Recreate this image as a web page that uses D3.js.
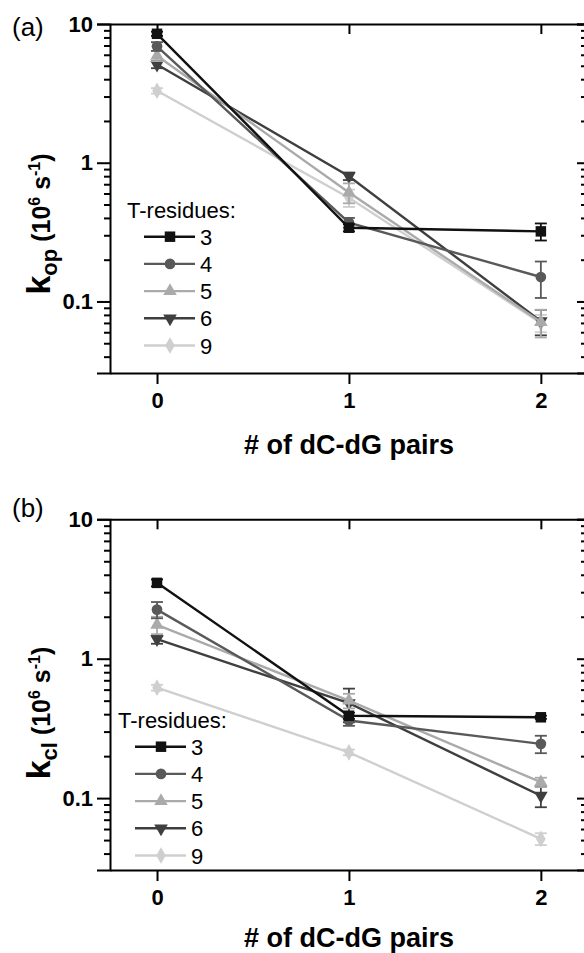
<!DOCTYPE html>
<html>
<head>
<meta charset="utf-8">
<script src="https://cdn.jsdelivr.net/npm/d3@7"></script>
<style>
  body { margin: 0; background: #fff; }
  text { font-family: "Liberation Sans", Arial, sans-serif; }
</style>
</head>
<body>
<svg width="584" height="953"></svg>
<script>
// data
var xValues = [0, 1, 2];
var residues = ["3", "4", "5", "6", "9"];

// k_op (10^6 s^-1), one row per T-residue count
var kopValues = [
  [8.5, 0.34, 0.32],
  [6.9, 0.37, 0.15],
  [5.9, 0.61, 0.071],
  [5.1, 0.80, 0.072],
  [3.3, 0.56, 0.070]
];
var kopErrors = [
  [0.3, 0.02, 0.045],
  [0.5, 0.03, 0.044],
  [0.5, 0.10, 0.016],
  [0.3, 0.05, 0.015],
  [0.15, 0.08, 0.010]
];

// k_cl (10^6 s^-1)
var kclValues = [
  [3.5, 0.39, 0.38],
  [2.25, 0.36, 0.245],
  [1.75, 0.50, 0.130],
  [1.38, 0.48, 0.104],
  [0.62, 0.213, 0.051]
];
var kclErrors = [
  [0.2, 0.02, 0.01],
  [0.3, 0.03, 0.035],
  [0.25, 0.06, 0.01],
  [0.1, 0.13, 0.018],
  [0.03, 0.01, 0.005]
];

var yTickValues = [0.1, 1, 10];
var yTickLabels = ["0.1", "1", "10"];

var colors = ["#111111", "#595959", "#aaaaaa", "#3f3f3f", "#cfcfcf"];
var symbols = [d3.symbolSquare, d3.symbolCircle, d3.symbolTriangle, d3.symbolTriangle, d3.symbolDiamond];
var symSizes = [110, 90, 80, 80, 80];
var symRotate = [0, 0, 0, 180, 0];

var svg = d3.select("svg");

var x = d3.scaleLinear().domain([-0.245, 2.23]).range([110, 585]);

// minor ticks of the log axis
var minorTicks = [];
[0.01, 0.1, 1].forEach(function(d) {
  for (var k = 2; k <= 9; k++) minorTicks.push(d * k);
});

function drawPanel(p) {
  var y = d3.scaleLog().domain([0.0305, 10]).range([p.bottom, p.top]);
  var minor = minorTicks.filter(function(d) { return d > 0.0305 && d < 10; });
  var g = svg.append("g");

  function styleAxis(a) {
    a.selectAll("path").attr("stroke", "#000").attr("stroke-width", 2);
    a.selectAll("line").attr("stroke", "#000").attr("stroke-width", 2);
    a.selectAll("text").attr("fill", "#000").attr("font-weight", "bold").attr("font-size", 22);
  }

  // left axis
  var left = g.append("g").attr("transform", "translate(110,0)")
    .call(d3.axisLeft(y).tickValues(yTickValues).tickSize(13).tickPadding(4)
      .tickFormat(function(d, i) { return yTickLabels[i]; }));
  styleAxis(left);
  g.append("g").attr("transform", "translate(110,0)")
    .call(d3.axisLeft(y).tickValues(minor).tickSize(6).tickFormat(""))
    .call(function(a) { a.select("path").remove(); styleAxis(a); });

  // right axis, ticks inward
  var right = g.append("g").attr("transform", "translate(585,0)")
    .call(d3.axisRight(y).tickValues(yTickValues).tickSize(-8).tickFormat(""));
  styleAxis(right);
  g.append("g").attr("transform", "translate(585,0)")
    .call(d3.axisRight(y).tickValues(minor).tickSize(-4).tickFormat(""))
    .call(function(a) { a.select("path").remove(); styleAxis(a); });

  // bottom axis
  var bottom = g.append("g").attr("transform", "translate(0," + p.bottom + ")")
    .call(d3.axisBottom(x).tickValues(xValues).tickSize(11).tickPadding(8)
      .tickFormat(d3.format("d")).tickSizeOuter(0));
  styleAxis(bottom);

  // top axis, ticks inward
  var topAx = g.append("g").attr("transform", "translate(0," + p.top + ")")
    .call(d3.axisTop(x).tickValues(xValues).tickSize(-10).tickFormat("").tickSizeOuter(0));
  styleAxis(topAx);

  // series, drawn so that "3" ends up on top
  var order = [4, 3, 2, 1, 0];
  var line = d3.line().x(function(d, i) { return x(xValues[i]); }).y(function(d) { return y(d); });

  order.forEach(function(s) {
    var vals = p.values[s], errs = p.errors[s];
    var sg = g.append("g");
    sg.append("path").datum(vals)
      .attr("d", line).attr("fill", "none")
      .attr("stroke", colors[s]).attr("stroke-width", 2.4);

    vals.forEach(function(v, i) {
      var cx = x(xValues[i]);
      var y1 = y(v + errs[i]), y2 = y(Math.max(v - errs[i], 0.031));
      sg.append("line").attr("x1", cx).attr("x2", cx).attr("y1", y1).attr("y2", y2)
        .attr("stroke", colors[s]).attr("stroke-width", 1.8);
      [y1, y2].forEach(function(yy) {
        sg.append("line").attr("x1", cx - 6).attr("x2", cx + 6).attr("y1", yy).attr("y2", yy)
          .attr("stroke", colors[s]).attr("stroke-width", 1.8);
      });
    });

    sg.selectAll("path.mark").data(vals).enter().append("path")
      .attr("class", "mark")
      .attr("d", d3.symbol().type(symbols[s]).size(symSizes[s]))
      .attr("transform", function(d, i) {
        return "translate(" + x(xValues[i]) + "," + y(d) + ") rotate(" + symRotate[s] + ")";
      })
      .attr("fill", colors[s]);
  });

  // legend
  var lg = g.append("g");
  lg.append("text").attr("x", p.legendX).attr("y", p.legendY - 27 + 8)
    .attr("font-size", 22).text("T-residues:");
  residues.forEach(function(r, s) {
    var yy = p.legendY + s * 27.2;
    lg.append("line").attr("x1", p.legendX + 17).attr("x2", p.legendX + 68)
      .attr("y1", yy).attr("y2", yy).attr("stroke", colors[s]).attr("stroke-width", 2.4);
    lg.append("path")
      .attr("d", d3.symbol().type(symbols[s]).size(symSizes[s]))
      .attr("transform", "translate(" + (p.legendX + 43) + "," + yy + ") rotate(" + symRotate[s] + ")")
      .attr("fill", colors[s]);
    lg.append("text").attr("x", p.legendX + 73).attr("y", yy + 8)
      .attr("font-size", 22).text(r);
  });

  // panel label
  g.append("text").attr("x", 12).attr("y", p.labelY).attr("font-size", 26).text(p.label);

  // x title
  g.append("text").attr("x", x(1)).attr("y", p.bottom + p.titleDy)
    .attr("text-anchor", "middle").attr("font-weight", "bold").attr("font-size", 27)
    .text("# of dC-dG pairs");

  // y title
  var yt = g.append("text")
    .attr("transform", "translate(50," + p.yTitleY + ") rotate(-90)")
    .attr("text-anchor", "middle").attr("font-weight", "bold").attr("font-size", 34);
  yt.append("tspan").text("k");
  yt.append("tspan").attr("font-size", 22).attr("dy", 7).text(p.sub);
  yt.append("tspan").attr("dy", -7).attr("font-size", 25).text(" (10");
  yt.append("tspan").attr("font-size", 16).attr("dy", -10).text("6");
  yt.append("tspan").attr("dy", 10).attr("font-size", 25).text(" s");
  yt.append("tspan").attr("font-size", 16).attr("dy", -10).text("-1");
  yt.append("tspan").attr("dy", 10).attr("font-size", 25).text(")");
}

drawPanel({
  top: 24, bottom: 373, values: kopValues, errors: kopErrors,
  legendX: 127, legendY: 236.7, label: "(a)", labelY: 36,
  sub: "op", yTitleY: 224, titleDy: 81
});

drawPanel({
  top: 519.3, bottom: 870, values: kclValues, errors: kclErrors,
  legendX: 118, legendY: 746.7, label: "(b)", labelY: 517,
  sub: "cl", yTitleY: 713, titleDy: 77
});
</script>
</body>
</html>
